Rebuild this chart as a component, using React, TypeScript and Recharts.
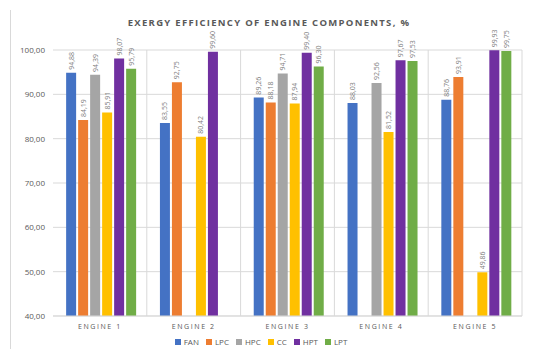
import { Bar, BarChart, CartesianGrid, LabelList, Legend, XAxis, YAxis } from "recharts";

const categories = ["ENGINE 1", "ENGINE 2", "ENGINE 3", "ENGINE 4", "ENGINE 5"];
const fan = [94.88, 83.55, 89.26, 88.03, 88.76];
const lpc = [84.19, 92.75, 88.18, null, 93.91];
const hpc = [94.39, null, 94.71, 92.56, null];
const cc = [85.91, 80.42, 87.94, 81.52, 49.86];
const hpt = [98.07, 99.6, 99.4, 97.67, 99.93];
const lpt = [95.79, null, 96.3, 97.53, 99.75];
const yTicks = [40, 50, 60, 70, 80, 90, 100];

const series = [
  { key: "FAN", values: fan, color: "#4472C4" },
  { key: "LPC", values: lpc, color: "#ED7D31" },
  { key: "HPC", values: hpc, color: "#A5A5A5" },
  { key: "CC", values: cc, color: "#FFC000" },
  { key: "HPT", values: hpt, color: "#7030A0" },
  { key: "LPT", values: lpt, color: "#70AD47" },
];

const data = categories.map((name, i) => {
  const row: any = { name };
  series.forEach((s) => (row[s.key] = s.values[i]));
  return row;
});

const fmt = (v: number) => v.toFixed(2).replace(".", ",");
const FONT = "'Open Sans', 'Liberation Sans', sans-serif";

function ValueLabel(props: any) {
  const { x, y, width, value } = props;
  if (value == null) return null;
  const cx = x + width / 2;
  const cy = y - 3;
  return (
    <text
      x={cx}
      y={cy}
      transform={`rotate(-90 ${cx} ${cy})`}
      textAnchor="start"
      dominantBaseline="central"
      fontSize={7}
      fill="#7f7f7f"
      fontFamily={FONT}
    >
      {fmt(value)}
    </text>
  );
}

function LegendBox() {
  return (
    <div style={{ display: "flex", justifyContent: "center", gap: 7, fontSize: 8, color: "#595959", fontFamily: FONT }}>
      {series.map((s) => (
        <div key={s.key} style={{ display: "flex", alignItems: "center" }}>
          <div style={{ width: 6, height: 6, background: s.color, marginRight: 3 }} />
          <span>{s.key}</span>
        </div>
      ))}
    </div>
  );
}

export default function App() {
  return (
    <div style={{ position: "absolute", left: 0, top: 0, width: 534, height: 349, background: "#fff", fontFamily: FONT }}>
      <div style={{ position: "absolute", left: 10, top: 10, width: 1, height: 339, background: "#d9d9d9" }} />
      <div
        style={{
          position: "absolute",
          left: 0,
          width: 534,
          top: 16,
          textAlign: "center",
          fontSize: 9.5,
          fontWeight: 700,
          letterSpacing: 1.3,
          color: "#595959",
          paddingLeft: 2,
        }}
      >
        EXERGY EFFICIENCY OF ENGINE COMPONENTS, %
      </div>
      <BarChart
        width={534}
        height={349}
        data={data}
        margin={{ top: 50, right: 12, left: 0, bottom: 0 }}
        barCategoryGap="14%"
        barGap={2}
      >
        <CartesianGrid
          stroke="#d9d9d9"
          verticalCoordinatesGenerator={({ offset }: any) =>
            [1, 2, 3, 4, 5].map((i) => offset.left + (offset.width * i) / categories.length)
          }
        />
        <XAxis
          dataKey="name"
          axisLine={{ stroke: "#d9d9d9" }}
          tickLine={false}
          height={20}
          tick={{ fontSize: 7, fill: "#595959", letterSpacing: 1.6, fontFamily: FONT }}
        />
        <YAxis
          domain={[40, 100]}
          ticks={yTicks}
          width={53}
          axisLine={false}
          tickLine={false}
          tickFormatter={fmt}
          tick={{ fontSize: 8, fill: "#595959", fontFamily: FONT }}
        />
        <Legend content={<LegendBox />} height={13} />
        {series.map((s) => (
          <Bar key={s.key} dataKey={s.key} fill={s.color} isAnimationActive={false}>
            <LabelList dataKey={s.key} content={<ValueLabel />} />
          </Bar>
        ))}
      </BarChart>
    </div>
  );
}
